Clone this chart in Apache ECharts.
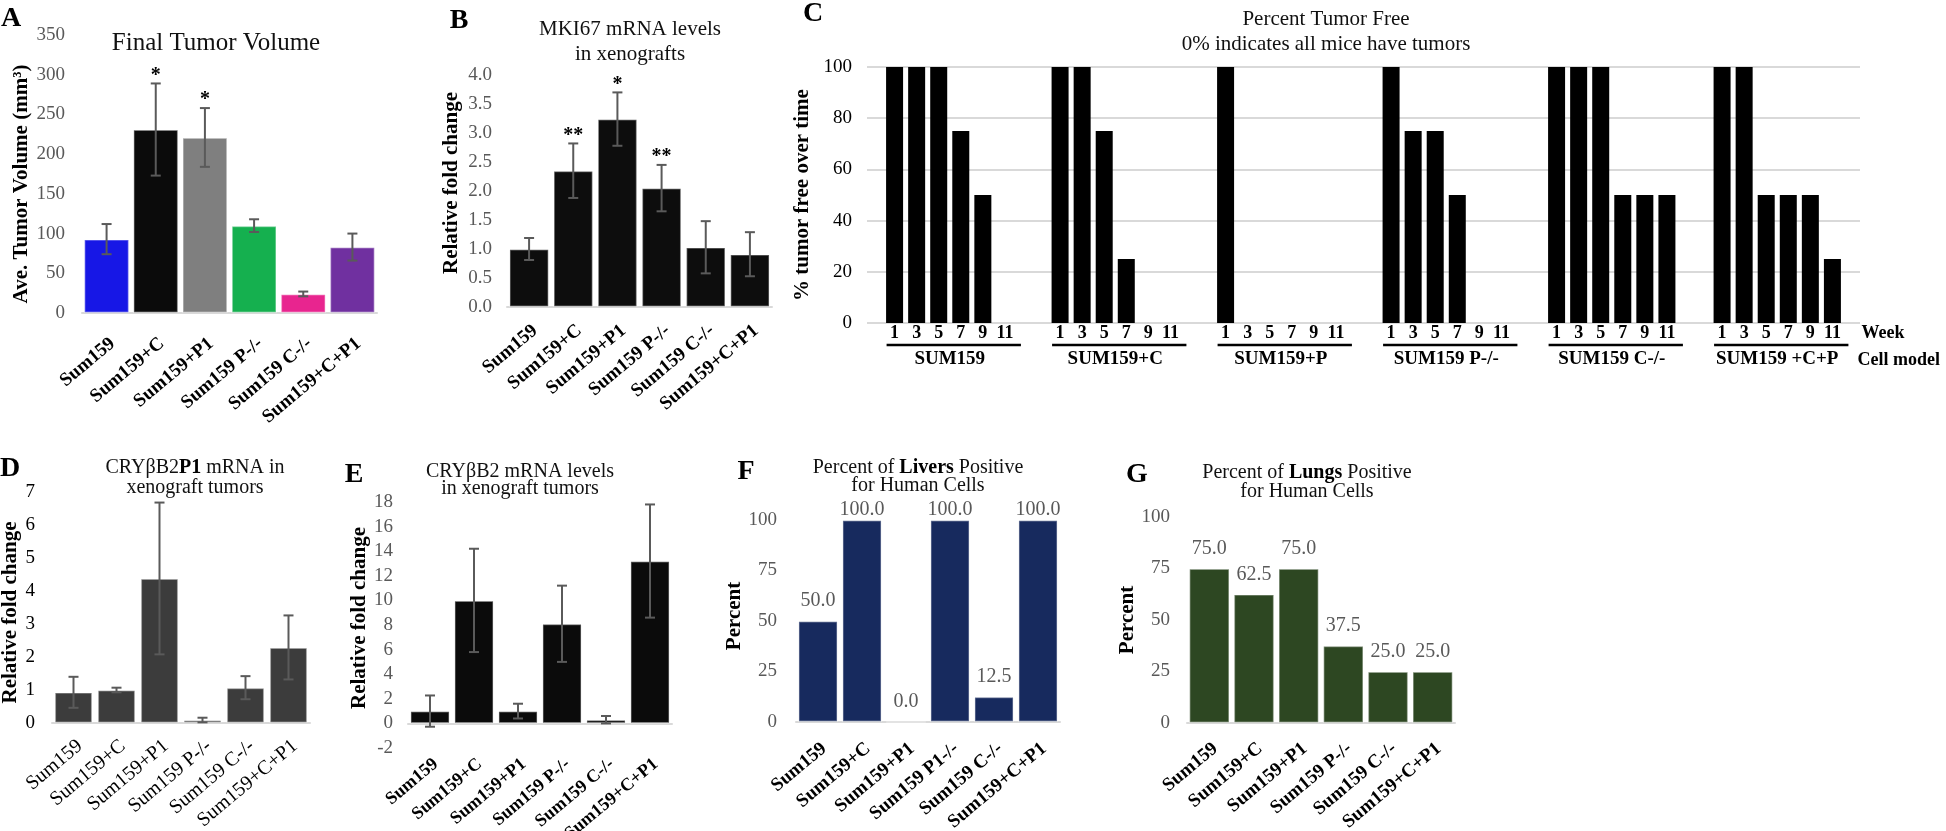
<!DOCTYPE html>
<html><head><meta charset="utf-8">
<script src="https://cdn.jsdelivr.net/npm/echarts@6/dist/echarts.min.js"></script>
<style>html,body{margin:0;padding:0;background:#fff}#c{width:1946px;height:831px}</style>
</head><body><div id="c"></div>
<script>
// ---------- DATA ----------
const cellModels  = ['Sum159','Sum159+C','Sum159+P1','Sum159 P-/-','Sum159 C-/-','Sum159+C+P1'];
const cellModelsF = ['Sum159','Sum159+C','Sum159+P1','Sum159 P1-/-','Sum159 C-/-','Sum159+C+P1'];

// A: Final tumor volume
const tumorVolume     = [93, 231, 221, 110, 24, 83];
const tumorVolumeErr  = [19, 58, 37, 8, 3, 17];
const tumorVolumeSig  = ['', '*', '*', '', '', ''];
const tumorVolumeColors = ['#1717e6', '#0b0b0b', '#7f7f7f', '#15b04f', '#e8258f', '#7030a0'];

// B: MKI67
const mki67     = [1.0, 2.35, 3.24, 2.05, 1.03, 0.91];
const mki67Err  = [0.19, 0.47, 0.46, 0.40, 0.45, 0.38];
const mki67Sig  = ['', '**', '*', '**', '', ''];

// C: percent tumor free
const weeks = [1, 3, 5, 7, 9, 11];
const cGroups = ['SUM159', 'SUM159+C', 'SUM159+P', 'SUM159 P-/-', 'SUM159 C-/-', 'SUM159 +C+P'];
const tfSum159   = [100, 100, 100, 75, 50, 0];
const tfSum159C  = [100, 100, 75, 25, 0, 0];
const tfSum159P  = [100, 0, 0, 0, 0, 0];
const tfSum159Pko = [100, 75, 75, 50, 0, 0];
const tfSum159Cko = [100, 100, 100, 50, 50, 50];
const tfSum159CP = [100, 100, 50, 50, 50, 25];
const tumorFreeGroups = [tfSum159, tfSum159C, tfSum159P, tfSum159Pko, tfSum159Cko, tfSum159CP];

// D: CRYbB2P1
const p1mrna    = [0.93, 1.0, 4.38, 0.09, 1.07, 2.29];
const p1mrnaErr = [0.47, 0.07, 2.3, 0.07, 0.35, 0.97];

// E: CRYbB2
const b2mrna    = [1.0, 10.0, 1.0, 8.1, 0.3, 13.2];
const b2mrnaErr = [1.27, 4.2, 0.6, 3.1, 0.3, 4.6];

// F, G
const liversPos = [50, 100, 0, 100, 12.5, 100];
const lungsPos  = [75, 62.5, 75, 37.5, 25, 25];

// ---------- LAYOUT / STYLE ----------
const FONT = 'Liberation Serif';
const GREY = '#595959';
const C_LEAD = 2, C_WEEK_STEP = 2, C_GROUP_STEP = 15, C_SLOTS = 90;
const cSlot = (g, w) => C_LEAD + g * C_GROUP_STEP + w * C_WEEK_STEP;

const cIds = [], cWeekLabel = [], cData = [];
for (let i = 0; i < C_SLOTS; i++) { cIds.push('s' + i); cWeekLabel.push(''); cData.push('-'); }
tumorFreeGroups.forEach((arr, g) => arr.forEach((v, w) => {
  const s = cSlot(g, w); cWeekLabel[s] = String(weeks[w]); cData[s] = v;
}));

const edge = {borderColor: 'rgba(255,255,255,0.35)', borderWidth: 1.5};

function catAxis(gi, cats, bold, margin, size) {
  return {
    gridIndex: gi, type: 'category', data: cats,
    axisLine: {show: true, lineStyle: {color: '#d9d9d9', width: 2}},
    axisTick: {show: false},
    axisLabel: {interval: 0, rotate: 40, margin, verticalAlign: 'top', fontFamily: FONT, fontSize: size || 19,
      fontWeight: bold ? 'bold' : 'normal', color: '#000'}
  };
}
function valAxis(gi, min, max, interval, name, nameGap, color, fmt, margin, pad) {
  return {
    gridIndex: gi, type: 'value', min, max, interval,
    name, nameLocation: 'middle', nameGap,
    nameTextStyle: {fontFamily: FONT, fontWeight: 'bold', fontSize: 21, color: '#000', padding: pad || 0},
    axisLine: {show: false}, axisTick: {show: false}, splitLine: {show: false},
    axisLabel: {fontFamily: FONT, fontSize: 19, color, margin: margin || 16, formatter: fmt}
  };
}
function errSeries(ai, vals, errs, sig) {
  return {
    type: 'custom', xAxisIndex: ai, yAxisIndex: ai, z: 5, silent: true,
    data: vals.map((v, i) => [i, v - errs[i], v + errs[i]]),
    renderItem: (params, api) => {
      const i = api.value(0);
      const lo = api.coord([i, api.value(1)]);
      const hi = api.coord([i, api.value(2)]);
      const c = 5;
      const st = {stroke: '#5a5a5a', lineWidth: 2};
      const ch = [
        {type: 'line', shape: {x1: hi[0], y1: hi[1], x2: lo[0], y2: lo[1]}, style: st},
        {type: 'line', shape: {x1: hi[0] - c, y1: hi[1], x2: hi[0] + c, y2: hi[1]}, style: st},
        {type: 'line', shape: {x1: lo[0] - c, y1: lo[1], x2: lo[0] + c, y2: lo[1]}, style: st}
      ];
      const s = sig && sig[params.dataIndex];
      if (s) ch.push({type: 'text', x: hi[0], y: hi[1] - 8,
        style: {text: s, align: 'center', verticalAlign: 'middle', fontFamily: FONT,
          fontSize: 20, fontWeight: 'bold', fill: '#000'}});
      return {type: 'group', children: ch};
    }
  };
}
function pctLabels(vals, max, color) {
  return vals.map(v => ({value: v, label: {distance: v >= max ? 0 : 10}, itemStyle: {color, ...edge}}));
}

const chart = echarts.init(document.getElementById('c'), null, {renderer: 'canvas'});
const gridBase = {containLabel: false, outerBoundsMode: 'none'};
const option = {
  backgroundColor: '#fff',
  animation: false,
  grid: [
    {left: 82, top: 35, width: 295, height: 278, ...gridBase},
    {left: 507, top: 75, width: 265, height: 232, ...gridBase},
    {left: 867, top: 67, width: 993, height: 256, ...gridBase},
    {left: 52, top: 492, width: 258, height: 231, ...gridBase},
    {left: 408, top: 502, width: 264, height: 246, ...gridBase},
    {left: 796, top: 520, width: 264, height: 202, ...gridBase},
    {left: 1187, top: 517, width: 268, height: 206, ...gridBase}
  ],
  xAxis: [
    catAxis(0, cellModels, true, 21),
    catAxis(1, cellModels, true, 14),
    {gridIndex: 2, type: 'category', data: cIds, axisLine: {show: false}, axisTick: {show: false},
      axisLabel: {interval: 0, margin: 1, fontFamily: FONT, fontSize: 18, fontWeight: 'bold', color: '#000',
        formatter: (v, idx) => cWeekLabel[idx]}},
    catAxis(3, cellModels, false, 13, 20),
    catAxis(4, cellModels, true, 7, 18),
    catAxis(5, cellModelsF, true, 17),
    catAxis(6, cellModels, true, 16),
    {gridIndex: 2, type: 'category', data: cGroups, position: 'bottom', axisLine: {show: false},
      axisTick: {show: false},
      axisLabel: {interval: 0, margin: 27, fontFamily: FONT, fontSize: 19, fontWeight: 'bold', color: '#000'}}
  ],
  yAxis: [
    valAxis(0, 0, 350, 50, 'Ave. Tumor Volume (mm³)', 50, GREY, null, 17, [0, 20, 0, 0]),
    valAxis(1, 0, 4, 0.5, 'Relative fold change', 45, GREY, v => v.toFixed(1), 15, [0, 0, 0, 16]),
    Object.assign(valAxis(2, 0, 100, 20, '% tumor free over time', 39, '#000', null, 15),
      {splitLine: {show: true, lineStyle: {color: '#d9d9d9', width: 2}}}),
    valAxis(3, 0, 7, 1, 'Relative fold change', 31, '#000', null, 17, [0, 10, 0, 0]),
    valAxis(4, -2, 18, 2, 'Relative fold change', 37, GREY, null, 15, [0, 0, 0, 14]),
    valAxis(5, 0, 100, 25, 'Percent', 46, GREY, null, 19, [0, 0, 0, 10]),
    valAxis(6, 0, 100, 25, 'Percent', 40, GREY, null, 17)
  ],
  series: [
    {type: 'bar', xAxisIndex: 0, yAxisIndex: 0, barCategoryGap: '8%',
      data: tumorVolume.map((v, i) => ({value: v, itemStyle: {color: tumorVolumeColors[i], ...edge}}))},
    errSeries(0, tumorVolume, tumorVolumeErr, tumorVolumeSig),
    {type: 'bar', xAxisIndex: 1, yAxisIndex: 1, barCategoryGap: '10%',
      itemStyle: {color: '#0d0d0d', ...edge}, data: mki67},
    errSeries(1, mki67, mki67Err, mki67Sig),
    {type: 'bar', xAxisIndex: 2, yAxisIndex: 2, barWidth: 17, itemStyle: {color: '#000'}, data: cData},
    {type: 'bar', xAxisIndex: 3, yAxisIndex: 3, barCategoryGap: '12%',
      itemStyle: {color: '#3c3c3c', ...edge}, data: p1mrna},
    errSeries(3, p1mrna, p1mrnaErr, null),
    {type: 'bar', xAxisIndex: 4, yAxisIndex: 4, barCategoryGap: '10%',
      itemStyle: {color: '#0b0b0b', ...edge}, data: b2mrna},
    errSeries(4, b2mrna, b2mrnaErr, null),
    {type: 'bar', xAxisIndex: 5, yAxisIndex: 5, barCategoryGap: '10%',
      label: {show: true, position: 'top', fontFamily: FONT, fontSize: 20, color: GREY, formatter: p => p.value.toFixed(1)},
      data: pctLabels(liversPos, 100, '#172a5e')},
    {type: 'bar', xAxisIndex: 6, yAxisIndex: 6, barCategoryGap: '9%',
      label: {show: true, position: 'top', fontFamily: FONT, fontSize: 20, color: GREY, formatter: p => p.value.toFixed(1)},
      data: pctLabels(lungsPos, 100, '#2d4722')}
  ]
};
chart.setOption(option);

// ---------- annotations (text + group underlines) ----------
function txt(x, y, text, size, opts) {
  return Object.assign({type: 'text', x, y, silent: true,
    style: Object.assign({text, fontFamily: FONT, fontSize: size, fill: '#111', align: 'center', verticalAlign: 'middle'}, opts || {})});
}
const BOLD = {fontWeight: 'bold', fill: '#000'};
const rich = {n: {fontFamily: FONT, fontSize: 20, fill: '#111'}, b: {fontFamily: FONT, fontSize: 20, fontWeight: 'bold', fill: '#000'}};
const graphics = [
  txt(11, 19, 'A', 28, BOLD), txt(459, 21, 'B', 28, BOLD), txt(813, 14, 'C', 28, BOLD),
  txt(10, 469, 'D', 28, BOLD), txt(354, 475, 'E', 28, BOLD), txt(746, 472, 'F', 28, BOLD), txt(1137, 475, 'G', 28, BOLD),
  txt(216, 43, 'Final Tumor Volume', 25),
  txt(630, 42, 'MKI67 mRNA levels\nin xenografts', 21, {lineHeight: 25}),
  txt(1326, 32, 'Percent Tumor Free\n0% indicates all mice have tumors', 21, {lineHeight: 25}),
  txt(195, 478, '{n|CRYβB2}{b|P1}{n| mRNA in}\n{n|xenograft tumors}', 20, {rich: {n: Object.assign({lineHeight: 20}, rich.n), b: Object.assign({lineHeight: 20}, rich.b)}}),
  txt(520, 480, 'CRYβB2 mRNA levels\nin xenograft tumors', 20, {lineHeight: 17}),
  txt(918, 477, '{n|Percent of }{b|Livers}{n| Positive}\n{n|for Human Cells}', 20, {rich: {n: Object.assign({lineHeight: 18}, rich.n), b: Object.assign({lineHeight: 18}, rich.b)}}),
  txt(1307, 482, '{n|Percent of }{b|Lungs}{n| Positive}\n{n|for Human Cells}', 20, {rich: {n: Object.assign({lineHeight: 19}, rich.n), b: Object.assign({lineHeight: 19}, rich.b)}})
];
const axisY = chart.convertToPixel({gridIndex: 2}, [0, 0])[1];
cGroups.forEach((g, gi) => {
  const x0 = chart.convertToPixel({gridIndex: 2}, [cSlot(gi, 0), 0])[0];
  const x1 = chart.convertToPixel({gridIndex: 2}, [cSlot(gi, weeks.length - 1), 0])[0];
  graphics.push({type: 'line', silent: true, shape: {x1: x0 - 8, y1: axisY + 22, x2: x1 + 16, y2: axisY + 22},
    style: {stroke: '#000', lineWidth: 2.5}});
});
const rightX = chart.convertToPixel({gridIndex: 2}, [C_SLOTS - 1, 0])[0] + 5;
graphics.push(txt(rightX + 2, axisY + 10, 'Week', 18, Object.assign({align: 'left'}, BOLD)));
graphics.push(txt(rightX - 2, axisY + 37, 'Cell model', 18, Object.assign({align: 'left'}, BOLD)));
chart.setOption({graphic: graphics});
</script></body></html>
